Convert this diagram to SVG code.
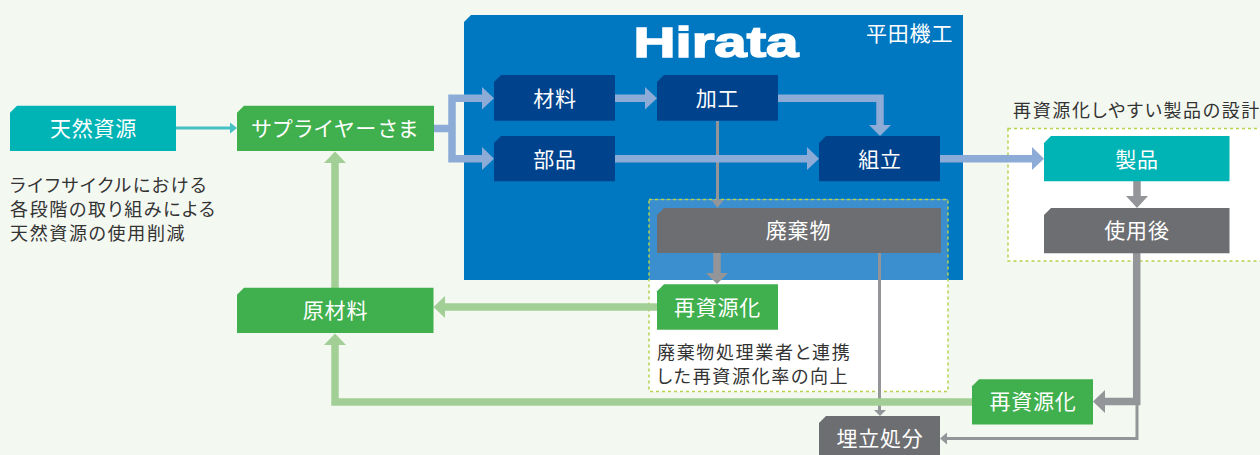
<svg xmlns="http://www.w3.org/2000/svg" width="1260" height="455" viewBox="0 0 1260 455">
<style>
text{font-family:"Noto Sans CJK JP","Noto Sans",sans-serif;font-feature-settings:"palt"}
.l{font-size:21px;fill:#fff;text-anchor:middle;letter-spacing:.8px}
.n{font-size:18px;fill:#333;letter-spacing:1.65px}
.teal{fill:#00b4b6}.green{fill:#40af4d}.navy{fill:#00438c}.gray{fill:#6d6e71}
.dash{stroke:#b5d24c;stroke-width:1.5;stroke-dasharray:3 3}
.b{fill:none;stroke:#8cabd6;stroke-width:7.5}
.g{fill:none;stroke:#a2cf95;stroke-width:7.5}
.k{fill:none;stroke:#939598;stroke-width:7.5}
.t{fill:none;stroke:#939598;stroke-width:3}
.bh{fill:#8cabd6}.gh{fill:#a2cf95}.kh{fill:#939598}
</style>
<rect width="1260" height="455" fill="#f3f8f1"/>
<g id="panel">
<path d="M471 15H963V280H464V22Z" fill="#0077c1"/>
<text x="633.500" y="57" font-size="43" font-weight="700" fill="#fff" stroke="#fff" stroke-width="1.5" style="font-family:'Liberation Sans',sans-serif" textLength="165" lengthAdjust="spacingAndGlyphs">Hirata</text>
<text x="866" y="41" font-size="21" fill="#fff" letter-spacing=".8">平田機工</text>
</g>
<g id="zone-waste">
<rect x="649" y="199.500" width="299" height="192" fill="#fff"/>
<rect x="649" y="199.500" width="299" height="80.500" fill="#3c8fce"/>
<rect x="649" y="199.500" width="299" height="192" fill="none" class="dash"/>
<text class="n" x="657" y="359">廃棄物処理業者と連携</text>
<text class="n" x="657" y="383">した再資源化率の向上</text>
</g>
<g id="zone-design">
<rect x="1008" y="128.500" width="262" height="132.500" fill="#fff" class="dash"/>
<text class="n" x="1013" y="117">再資源化しやすい製品の設計</text>
</g>
<text class="n" x="10" y="192">ライフサイクルにおける</text>
<text class="n" x="10" y="216">各段階の取り組みによる</text>
<text class="n" x="10" y="240">天然資源の使用削減</text>
<g id="connectors">
<path d="M176 128H232" fill="none" stroke="#45c1c6" stroke-width="3"/>
<path d="M230 122.500L237 128L230 133.500Z" fill="#45c1c6"/>
<path class="t" d="M717.500 121V200"/>
<path class="kh" d="M711.500 200H723.500L717.500 208Z"/>
<path class="b" d="M434 128.500H452M485 98.300H452V158.700H485"/>
<path class="bh" d="M482 87L494 98.300L482 109.500ZM482 147L494 158.700L482 170Z"/>
<path class="b" d="M615 98.300H648"/><path class="bh" d="M645 87L657 98.300L645 109.500Z"/>
<path class="b" d="M778 98.300H880V128"/><path class="bh" d="M869 125H891L880 136Z"/>
<path class="b" d="M615 158.700H810"/><path class="bh" d="M807 147L819 158.700L807 170Z"/>
<path class="b" d="M940 158.700H1035"/><path class="bh" d="M1032 147L1044 158.700L1032 170Z"/>
<path class="k" d="M1137 181V198"/><path class="kh" d="M1126 196H1148L1137 208Z"/>
<path class="k" d="M717 253V275"/><path class="kh" d="M706 273H728L717 284Z"/>
<path class="k" d="M1136.700 253V401.500H1103"/><path class="kh" d="M1105 390V413L1093 401.500Z"/>
<path class="t" d="M1137 404V438.500H945"/><path class="kh" d="M947 432.500V444.500L940 438.500Z"/>
<path class="t" d="M879.500 253V411"/><path class="kh" d="M874 410H886L880 416Z"/>
<path class="g" d="M657 307H443"/><path class="gh" d="M445 296V318L433.500 307Z"/>
<path class="g" d="M335 288V160"/><path class="gh" d="M324 163H346L335 151.500Z"/>
<path class="g" d="M972 402H335V342"/><path class="gh" d="M324 345H346L335 333.500Z"/>
</g>
<g id="n-tennen"><path class="teal" d="M17 105.700H176V151H10V112.700Z"/><text class="l" x="93.500" y="136">天然資源</text></g>
<g id="n-supplier"><path class="green" d="M244 105.700H434V151H237V112.700Z"/><text class="l" x="335.500" y="136" letter-spacing="1.8" style="letter-spacing:1.8px">サプライヤーさま</text></g>
<g id="n-zairyo"><path class="navy" d="M501 75H615V120.700H494V82Z"/><text class="l" x="555" y="106">材料</text></g>
<g id="n-kako"><path class="navy" d="M664 75H778V120.700H657V82Z"/><text class="l" x="717.500" y="106">加工</text></g>
<g id="n-buhin"><path class="navy" d="M501 136H615V181.300H494V143Z"/><text class="l" x="555" y="167">部品</text></g>
<g id="n-kumitate"><path class="navy" d="M826 136H940V181.300H819V143Z"/><text class="l" x="880" y="167">組立</text></g>
<g id="n-haiki"><path class="gray" d="M664 208H941V253H657V215Z"/><text class="l" x="798.500" y="238">廃棄物</text></g>
<g id="n-recycle1"><path class="green" d="M664 284.300H778V329.700H657V291.300Z"/><text class="l" x="717.500" y="315">再資源化</text></g>
<g id="n-seihin"><path class="teal" d="M1051 136H1229.500V181.300H1044V143Z"/><text class="l" x="1137" y="167">製品</text></g>
<g id="n-shiyougo"><path class="gray" d="M1051 208H1229.500V253.300H1044V215Z"/><text class="l" x="1137" y="238">使用後</text></g>
<g id="n-genzairyo"><path class="green" d="M244 287.700H433.500V333H237V294.700Z"/><text class="l" x="335.500" y="318">原材料</text></g>
<g id="n-recycle2"><path class="green" d="M979 379.300H1093V424.500H972V386.300Z"/><text class="l" x="1033" y="409">再資源化</text></g>
<g id="n-umetate"><path class="gray" d="M826 416H940V462H819V423Z"/><text class="l" x="880" y="446">埋立処分</text></g>
</svg>
